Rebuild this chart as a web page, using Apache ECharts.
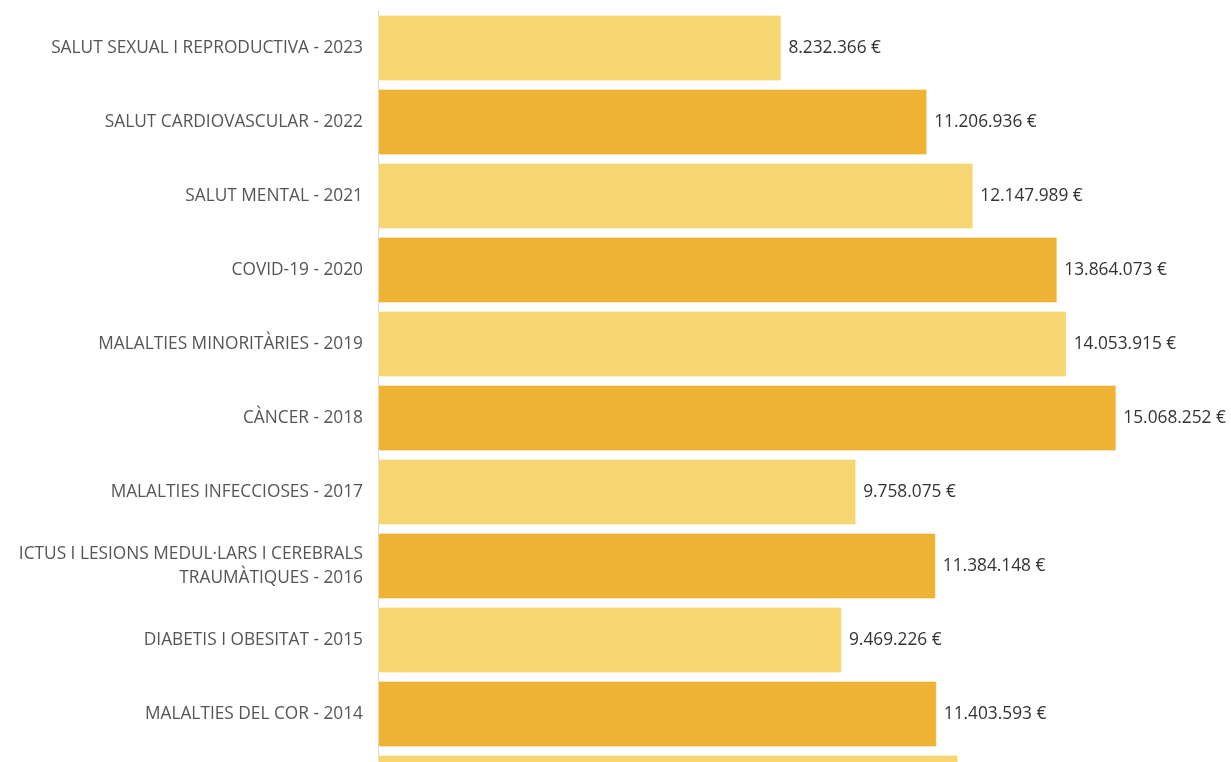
<!DOCTYPE html>
<html>
<head>
<meta charset="utf-8">
<script src="https://cdn.jsdelivr.net/npm/echarts@6/dist/echarts.min.js"></script>
<style>
  html, body { margin: 0; padding: 0; background: #fff; overflow: hidden; }
  #chart { width: 1231px; height: 900px; }
</style>
</head>
<body>
<div id="chart"></div>
<script>
// categories (top to bottom)
const categories = [
  'SALUT SEXUAL I REPRODUCTIVA - 2023',
  'SALUT CARDIOVASCULAR - 2022',
  'SALUT MENTAL - 2021',
  'COVID-19 - 2020',
  'MALALTIES MINORITÀRIES - 2019',
  'CÀNCER - 2018',
  'MALALTIES INFECCIOSES - 2017',
  'ICTUS I LESIONS MEDUL·LARS I CEREBRALS\nTRAUMÀTIQUES - 2016',
  'DIABETIS I OBESITAT - 2015',
  'MALALTIES DEL COR - 2014',
  'MALALTIES NEURODEGENERATIVES - 2013'
]
// recaptació en euros
const values = [
  8232366, 11206936, 12147989, 13864073, 14053915,
  15068252, 9758075, 11384148, 9469226, 11403593, 11840000
]
const colors = ['#F6D670', '#EFB334']

// 1234567 -> "1.234.567 €"
function euro(v) {
  return String(v).replace(/\B(?=(\d{3})+(?!\d))/g, '.') + ' €'
}

const chart = echarts.init(document.getElementById('chart'))
chart.setOption({
  animation: false,
  grid: { left: 378, top: 11, width: 784, height: 814, outerBoundsMode: 'none' },
  xAxis: {
    type: 'value',
    min: 0,
    max: 16000000,
    show: false
  },
  yAxis: {
    type: 'category',
    inverse: true,
    data: categories,
    axisLine: { lineStyle: { color: '#d6d6d6', width: 1 } },
    axisTick: { show: false },
    axisLabel: {
      margin: 15,
      color: '#555',
      fontFamily: 'Open Sans',
      fontSize: 17.3,
      lineHeight: 24,
      align: 'right'
    }
  },
  series: [{
    type: 'bar',
    barWidth: 66,
    data: values.map((v, i) => ({
      value: v,
      itemStyle: { color: colors[i % 2] }
    })),
    itemStyle: { borderColor: 'rgba(255,255,255,0.35)', borderWidth: 1 },
    label: {
      show: true,
      position: 'right',
      distance: 7,
      color: '#333',
      fontFamily: 'Open Sans',
      fontSize: 17.3,
      formatter: p => euro(p.value)
    }
  }]
})
</script>
</body>
</html>
